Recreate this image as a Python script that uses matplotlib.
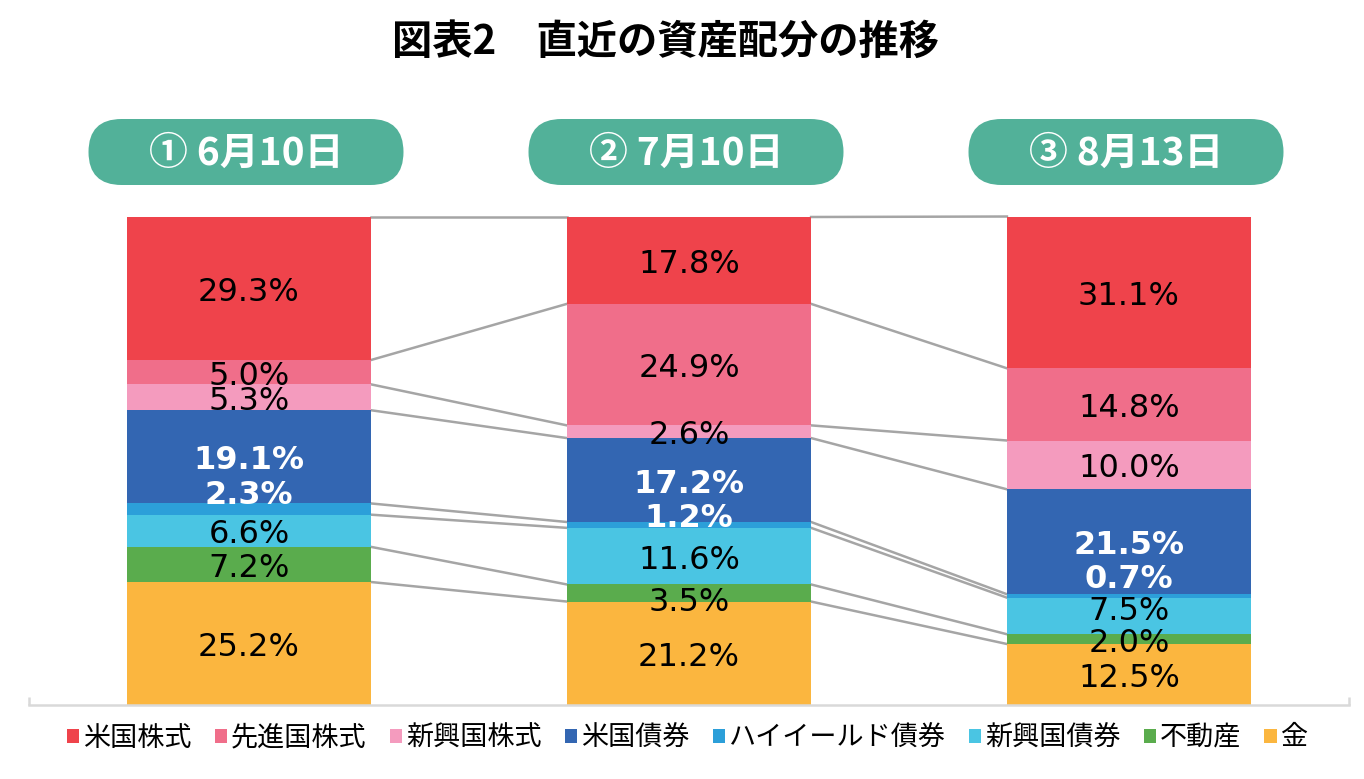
import matplotlib
matplotlib.use("Agg")
import matplotlib.pyplot as plt
from matplotlib.patches import FancyBboxPatch, Patch
from matplotlib.transforms import IdentityTransform
import numpy as np

plt.rcParams['font.family'] = ['Noto Sans CJK JP', 'DejaVu Sans']

# データ（上から順に：米国株式 → 金）
dates = ["① 6月10日", "② 7月10日", "③ 8月13日"]
assets = ["米国株式", "先進国株式", "新興国株式", "米国債券",
          "ハイイールド債券", "新興国債券", "不動産", "金"]
us_stock = [29.3, 17.8, 31.1]
dev_stock = [5.0, 24.9, 14.8]
em_stock = [5.3, 2.6, 10.0]
us_bond = [19.1, 17.2, 21.5]
hy_bond = [2.3, 1.2, 0.7]
em_bond = [6.6, 11.6, 7.5]
reit = [7.2, 3.5, 2.0]
gold = [25.2, 21.2, 12.5]
series = [us_stock, dev_stock, em_stock, us_bond, hy_bond, em_bond, reit, gold]

colors = ["#EF434B", "#F06E8A", "#F49BBE", "#3366B2",
          "#2C9FD9", "#4AC5E3", "#5AAC4D", "#FBB63F"]
label_colors = ["black", "black", "black", "white",
                "white", "black", "black", "black"]
# ラベルの微調整（px、上方向が正）
label_nudge = {(0, 4): 18, (1, 4): 10, (2, 4): 20, (2, 5): 8, (1, 6): -5}

W, H = 1364, 779
fig = plt.figure(figsize=(W / 100, H / 100), dpi=100)
ax = fig.add_axes([29 / W, 74 / H, 1320 / W, 488 / H])

x = np.arange(len(dates))
w = 0.555
bottom = np.zeros(len(dates))
tops = []
n = len(series)
for k in range(n - 1, -1, -1):
    vals = np.array(series[k])
    ax.bar(x, vals, w, bottom=bottom, color=colors[k], linewidth=0,
           zorder=2, clip_on=False)
    for i in range(len(x)):
        dy = (label_nudge.get((i, k), 0) - 4) * 100 / 488
        ax.text(x[i], bottom[i] + vals[i] / 2 + dy, f"{vals[i]:.1f}%",
                ha='center', va='center', fontsize=23,
                family='DejaVu Sans', color=label_colors[k],
                weight='bold' if label_colors[k] == 'white' else 'normal',
                zorder=4)
    bottom = bottom + vals
    tops.append(bottom.copy())

# 区分線
for top in tops:
    for i in range(len(x) - 1):
        ax.plot([x[i] + w / 2, x[i + 1] - w / 2], [top[i], top[i + 1]],
                color='#A5A5A5', lw=1.8, zorder=1, clip_on=False)

ax.set_xlim(-0.5, 2.5)
ax.set_ylim(0, 100)
for s in ['top', 'left', 'right']:
    ax.spines[s].set_visible(False)
ax.spines['bottom'].set_color('#D9D9D9')
ax.spines['bottom'].set_linewidth(1.8)
ax.set_xticks([-0.5, 2.5])
ax.set_xticklabels([])
ax.set_yticks([])
ax.tick_params(axis='x', direction='in', length=6, width=1.8, color='#D9D9D9')

# 日付ラベル（角丸）
for i, d in enumerate(dates):
    px = ax.transData.transform((x[i], 0))[0] - 3
    box = FancyBboxPatch((px - 157.5, H - 185), 315, 66,
                         boxstyle="round,pad=0,rounding_size=33",
                         transform=IdentityTransform(),
                         facecolor='#52B199', edgecolor='none')
    fig.add_artist(box)
    fig.text(px, H - 153, d, transform=IdentityTransform(),
             ha='center', va='center', fontsize=28, weight='bold',
             color='white')

fig.text(665 / W, 1 - 42 / H, "図表2　直近の資産配分の推移",
         ha='center', va='center', fontsize=29, weight='bold')

handles = [Patch(facecolor=c, edgecolor='none') for c in colors]
fig.legend(handles, assets, loc='center', bbox_to_anchor=(0.504, 41 / H),
           ncol=8, frameon=False, fontsize=19.5, handlelength=0.45,
           handleheight=0.45, handletextpad=0.15, columnspacing=0.85)

fig.savefig('out.png', dpi=100)
